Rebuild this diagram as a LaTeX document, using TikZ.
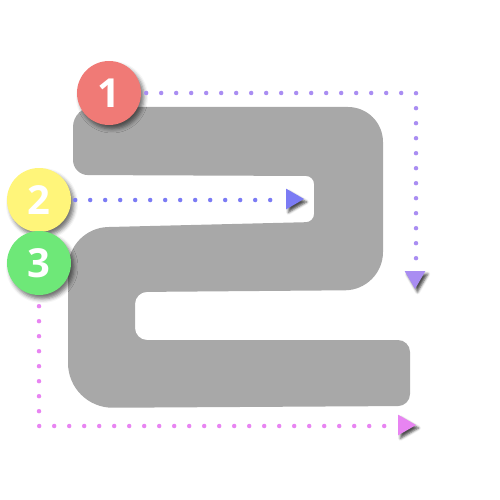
\documentclass[tikz,border=0pt]{standalone}
\usepackage{fontspec}
\setmainfont{Open Sans}
\usetikzlibrary{shapes.geometric,shadows.blur}
\definecolor{shapegray}{HTML}{A8A8A8}
\definecolor{cone}{HTML}{F07A76}
\definecolor{ctwo}{HTML}{FFF57A}
\definecolor{cthree}{HTML}{6EE878}
\definecolor{dotone}{HTML}{A98DF2}
\definecolor{dottwo}{HTML}{7B7BF4}
\definecolor{dotthree}{HTML}{E884F2}
\tikzset{
  numcirc/.style={circle, minimum size=64pt, inner sep=0pt, text=white,
    font=\fontsize{40}{40}\selectfont\bfseries,
    blur shadow={shadow xshift=3pt, shadow yshift=-4pt, shadow blur radius=4pt, shadow opacity=55}},
  dotline/.style={dash pattern=on 0pt off 15pt, line cap=round, line width=4.5pt},
  tri/.style={regular polygon, regular polygon sides=3, minimum size=24pt, inner sep=0pt,
    blur shadow={shadow xshift=2.5pt, shadow yshift=-3pt, shadow blur radius=2.5pt, shadow opacity=70}}
}
\begin{document}
\begin{tikzpicture}[x=1pt,y=-1pt]
\useasboundingbox (0,0) rectangle (500,500);
% the letter shape
\fill[shapegray] (73,140) [rounded corners=20] -- (73,107) [rounded corners=35] -- (383,107)
  [rounded corners=38] -- (383,290) [rounded corners=12] -- (135,292) -- (135,340) -- (410,340)
  -- (410,406) [rounded corners=45] -- (68,408) [rounded corners=40] -- (68,228)
  [rounded corners=8] -- (314,222) -- (314,176) [rounded corners=15] -- (73,175) -- cycle;
% circles
\node[numcirc, fill=cone] (n1) at (109,93) {1};
\node[numcirc, fill=ctwo] (n2) at (39,200) {2};
\node[numcirc, fill=cthree] (n3) at (39,263) {3};
% coordinates
\coordinate (k1) at (416,93);
\coordinate (e1) at (416,260);
\coordinate (e2) at (272,200);
\coordinate (k3) at (39,426);
\coordinate (e3) at (388,426);
% dotted connectors
\draw[dotline, dotone] ([xshift=5pt]n1.east) -- (k1) -- (e1);
\draw[dotline, dottwo] ([xshift=4pt]n2.east) -- (e2);
\draw[dotline, dotthree] ([yshift=-11pt]n3.south) -- (k3) -- (e3);
% arrowheads
\node[tri, fill=dotone, shape border rotate=180] (t1) at (415,277) {};
\node[tri, fill=dottwo, shape border rotate=-90] (t2) at (292,199) {};
\node[tri, fill=dotthree, shape border rotate=-90] (t3) at (404,425) {};
\end{tikzpicture}
\end{document}
